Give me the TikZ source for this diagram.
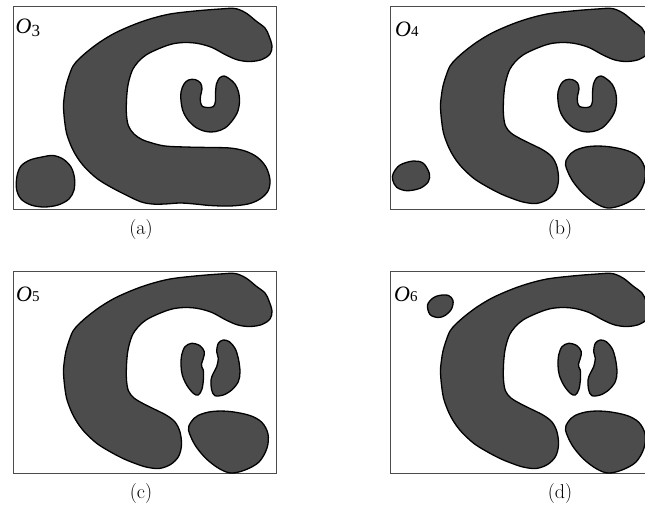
\documentclass[tikz,border=0pt]{standalone}
\usepackage{fontspec}
\newfontfamily\labfont{Liberation Serif}
\definecolor{shapegray}{RGB}{76,76,76}
\newcommand\drawCfull{%
\draw[blob] plot[smooth cycle,tension=0.55] coordinates {
(63.5,105)(64.5,95)(66,86)(69,76)(73,66)(79,59)(88,51)(100,42)(115,33)(133,25)(150,19)(170,14)(195,11)(220,9)(235,8.5)(246,13)(256,21)(265,28)(269,36)(272,46)(270,54)(262,59.5)(250,61.5)(238,60)(226,55)(212,47.5)(198,43.5)(185,42.5)(172,44)(158,49)(146,55)(138,62)(132,71)(128,85)(126.5,100)(126.5,115)(128.5,126)(134,134)(142,139.5)(152,143)(165,146)(185,147)(210,147.5)(230,148)(245,151)(257,157)(266,167)(270,180)(268,191)(260,199)(248,204)(230,206)(210,205.5)(195,204)(180,203)(165,204)(152,204)(140,201.5)(122,193)(108,185.5)(96.7,178.3)(86,168.5)(79,160)(73.5,151)(69.5,142)(66.5,133)(65,124)(64,115)};}
\newcommand\drawCcut{%
\draw[blob] plot[smooth cycle,tension=0.55] coordinates {
(63.5,105)(64.5,95)(66,86)(69,76)(73,66)(79,59)(88,51)(100,42)(115,33)(133,25)(150,19)(170,14)(195,11)(220,9)(235,8.5)(246,13)(256,21)(265,28)(269,36)(272,46)(270,54)(262,59.5)(250,61.5)(238,60)(226,55)(212,47.5)(198,43.5)(185,42.5)(172,44)(158,49)(146,55)(138,62)(132,71)(128,85)(126.5,100)(126.5,115)(128.5,126)(134,133)(143,138.5)(153,143.5)(166,150)(175,157)(180,167)(181.5,180)(178.5,191.5)(170.5,199.5)(159,203.5)(146,202)(134,198)(122,193)(108,185.5)(96.7,178.3)(86,168.5)(79,160)(73.5,151)(69.5,142)(66.5,133)(65,124)(64,115)};}
\newcommand\drawU{%
\draw[blob] plot[smooth cycle,tension=0.55] coordinates {
(188.5,80)(195,79.5)(200.5,83)(202,89)(200.5,96)(200.5,102)(202.5,106.5)(208,107.5)(213.5,106.5)(215.5,101)(215.5,93)(216.5,84)(219.5,78)(224,76)(229,78.5)(235,84)(238.5,92)(239.5,102)(237.5,112)(232,121)(225,128)(216,131.5)(206,131.5)(196,127.5)(188,120)(183,111)(181,101)(181,92)(184,84)};}
\newcommand\drawKidneys{%
\draw[blob] plot[smooth cycle,tension=0.55] coordinates {
(185,81.7)(191.7,78.3)(200,80.7)(204.3,86.7)(203.3,93.3)(201.5,99)(201.8,102)(203.3,105)(203.5,113.3)(202,124)(198.3,130)(193.3,128.3)(186.7,120)(182.3,110)(181,100)(181.7,90)};
\draw[blob] plot[smooth cycle,tension=0.55] coordinates {
(218.3,78.3)(223.3,75)(229.3,76.7)(235,83.3)(238.3,93.3)(240,106.7)(238.3,116.7)(231.7,125)(223.3,130)(215,130.7)(211.7,125)(211,115)(213.3,108.3)(216.7,101.7)(218.3,93.3)(216.7,86.7)};}
\newcommand\drawRblob{%
\draw[blob] plot[smooth cycle,tension=0.55] coordinates {
(188.5,165)(191,157)(198,150.5)(212,146.5)(230,146.5)(250,150.5)(262,157.5)(268,169)(267,183)(259,197)(245,205)(231,208)(219,203.5)(206,193.5)(195,180)};}
\begin{document}
\begin{tikzpicture}[x=1pt,y=-1pt,
  blob/.style={draw=black,fill=shapegray,line width=1.3pt,line join=round},
  frame/.style={draw=black!70,line width=1pt},
  captext/.style={font=\fontsize{20}{22}\selectfont,inner sep=0pt},
  lab/.style={font=\fontsize{22}{24}\selectfont\labfont\itshape,inner sep=0pt,anchor=base west}]
\useasboundingbox (0,0) rectangle (645,512);
\clip (0,0) rectangle (645,512);
% (a)
\draw[frame] (13,6.5) rectangle (276,209.5);
\drawCfull
\drawU
\draw[blob] plot[smooth cycle,tension=0.55] coordinates {
(17,176)(21,166)(30,160)(42,157)(53,155.5)(63,159)(71,167)(74.5,178)(74,190)(69,199)(58,205)(44,207)(31,205)(21,199)(16.5,189)};
\node[lab] (la) at (15.5,33.5) {O\raisebox{-2.5pt}{\fontsize{17}{17}\selectfont\upshape 3}};
\node[captext] (ca) at (141,230) {(a)};
% (b)
\begin{scope}[shift={(377,0)}]
\draw[frame] (13,6.5) rectangle (300,209.5);
\drawCcut
\drawU
\drawRblob
\draw[blob] plot[smooth cycle,tension=0.55] coordinates {
(16.3,173.3)(23,165)(36.3,161)(46.3,163.3)(52.3,173.3)(51.3,181.7)(43,188.3)(29.7,190.7)(19.7,187.3)(15.7,180)};
\node[lab] (lb) at (18,36) {O{\fontsize{15}{15}\selectfont\upshape 4}};
\end{scope}
\node[captext] (cb) at (560,230) {(b)};
% (c)
\begin{scope}[shift={(0,265)}]
\draw[frame] (13,6.5) rectangle (276,208.5);
\drawCcut
\drawKidneys
\drawRblob
\node[lab] (lc) at (16,36) {O{\fontsize{15}{15}\selectfont\upshape 5}};
\end{scope}
\node[captext] (cc) at (141,494) {(c)};
% (d)
\begin{scope}[shift={(377,265)}]
\draw[frame] (13,6.5) rectangle (300,208.5);
\drawCcut
\drawKidneys
\drawRblob
\draw[blob] plot[smooth cycle,tension=0.55] coordinates {
(50.5,40)(56,33)(63,30.3)(71.5,30.5)(76,35.5)(74.5,44)(68,50.5)(61,52.5)(53,49.5)};
\node[lab] (ld) at (17,36) {O{\fontsize{15}{15}\selectfont\upshape 6}};
\end{scope}
\node[captext] (cd) at (560,494) {(d)};
\end{tikzpicture}
\end{document}
